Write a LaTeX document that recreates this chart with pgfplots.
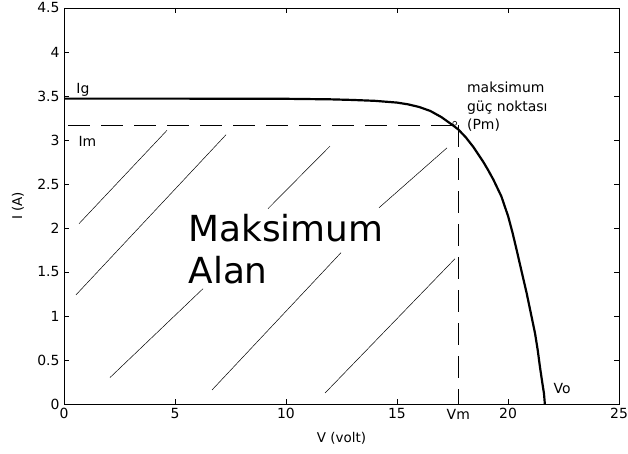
\documentclass[border=0pt]{standalone}
\usepackage{pgfplots}
\pgfplotsset{compat=1.18}
\usepackage{fontspec}
\setmainfont{DejaVu Sans}
\begin{document}
\begin{tikzpicture}
\begin{axis}[
  scale only axis,
  width=555bp, height=396bp,
  xmin=0, xmax=25, ymin=0, ymax=4.5,
  xtick={0,5,10,15,20,25},
  ytick={0,0.5,1,1.5,2,2.5,3,3.5,4,4.5},
  yticklabels={0,0.5,1,1.5,2,2.5,3,3.5,4,4.5},
  tick align=inside,
  major tick length=5bp,
  tick style={black, line width=0.6pt},
  axis line style={black, line width=0.8pt},
  ticklabel style={font=\fontsize{14}{16}\selectfont},
  /pgf/number format/assume math mode=true,
  xticklabel style={yshift=-1bp},
  yticklabel style={xshift=-1bp},
  xlabel={V (volt)},
  label style={font=\fontsize{13.5}{16}\selectfont},
  xlabel style={at={(rel axis cs:0.5,0)}, anchor=center, yshift=-34bp},
  clip=false,
]
% I-V curve
\addplot[black, line width=2.2pt, line join=round] coordinates {
(0,3.47) (5,3.47) (10,3.468) (12,3.462) (13,3.455) (14,3.445) (15,3.425)
(15.5,3.405) (16,3.375) (16.5,3.33) (17,3.26) (17.25,3.215) (17.5,3.17)
(17.76,3.12) (18.1,3.03) (18.44,2.92) (18.89,2.75) (19.1,2.66) (19.34,2.55)
(19.7,2.36) (20.01,2.13) (20.2,1.95) (20.39,1.75) (20.6,1.52) (20.84,1.26)
(21.03,1.03) (21.22,0.80) (21.34,0.61) (21.44,0.42) (21.54,0.25) (21.62,0.12)
(21.66,0)
};
% dashed guide lines
\addplot[black, line width=0.9pt, dash pattern=on 22bp off 11bp] coordinates {(0.2,3.17) (17.76,3.17)};
\addplot[black, line width=0.9pt, dash pattern=on 22bp off 11bp] coordinates {(17.76,3.17) (17.76,0)};
% max power point marker
\addplot[black, only marks, mark=o, mark size=2pt, line width=0.6pt] coordinates {(17.6,3.19)};
% hatch lines
\addplot[black, line width=0.5pt] coordinates {(0.68,2.05) (4.64,3.11)};
\addplot[black, line width=0.5pt] coordinates {(0.54,1.24) (7.30,3.06)};
\addplot[black, line width=0.5pt] coordinates {(9.19,2.22) (11.98,2.93)};
\addplot[black, line width=0.5pt] coordinates {(14.19,2.23) (17.25,2.91)};
\addplot[black, line width=0.5pt] coordinates {(2.07,0.30) (6.26,1.31)};
\addplot[black, line width=0.5pt] coordinates {(6.67,0.16) (12.48,1.72)};
\addplot[black, line width=0.5pt] coordinates {(11.76,0.125) (17.61,1.65)};
% texts
\node[anchor=west, font=\fontsize{14}{16}\selectfont] at (axis cs:0.4,3.57) {Ig};
\node[anchor=west, font=\fontsize{14}{16}\selectfont] at (axis cs:0.5,2.98) {Im};
\node[anchor=west, font=\fontsize{14}{16}\selectfont] at (axis cs:21.9,0.18) {Vo};
\node[anchor=north, font=\fontsize{14}{16}\selectfont] at (axis cs:17.76,-0.02) {Vm};
\node[anchor=west, align=left, font=\fontsize{14}{18.5}\selectfont] at (axis cs:18.0,3.375) {maksimum\\güç noktası\\(Pm)};
\node[anchor=west, align=left, font=\fontsize{36}{42}\selectfont] at (axis cs:5.45,1.76) {Maksimum\\Alan};
\node[rotate=90, anchor=center, font=\fontsize{13.5}{16}\selectfont] at ([xshift=-46bp]rel axis cs:0,0.5) {I (A)};
\coordinate (SW) at (rel axis cs:0,0);
\coordinate (NE) at (rel axis cs:1,1);
\end{axis}
\pgfresetboundingbox
\path ([xshift=-64bp,yshift=-50bp]SW) rectangle ([xshift=9bp,yshift=8bp]NE);
\end{tikzpicture}
\end{document}
